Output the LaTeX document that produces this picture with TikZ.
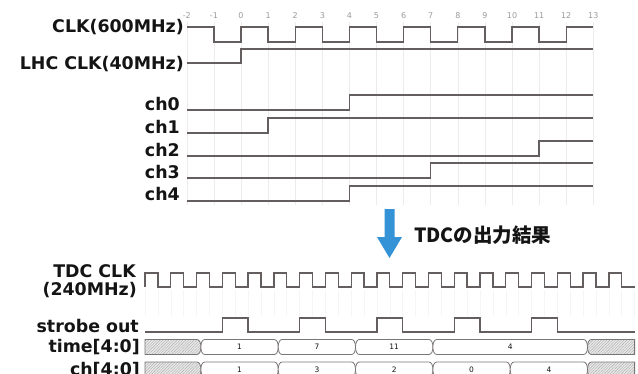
\documentclass[tikz,border=0pt]{standalone}
\usepackage{fontspec}
\setmainfont{DejaVu Sans}
\newfontfamily\jpfont{Noto Sans CJK JP}
\usetikzlibrary{patterns.meta}
\definecolor{wave}{RGB}{100,94,94}
\definecolor{gridc}{RGB}{236,236,236}
\definecolor{arrowblue}{RGB}{52,146,214}
\definecolor{tickc}{RGB}{155,155,155}
\definecolor{labc}{RGB}{20,20,20}
\newcommand\busseg[5]{%
  \draw[#5] ({#1},{(#3+#4)/2}) .. controls ({#1},{#3+3}) and ({#1+1.5},{#3}) .. ({#1+4},{#3})
    -- ({#2-4},{#3}) .. controls ({#2-1.5},{#3}) and ({#2},{#3+3}) .. ({#2},{(#3+#4)/2})
    .. controls ({#2},{#4-3}) and ({#2-1.5},{#4}) .. ({#2-4},{#4})
    -- ({#1+4},{#4}) .. controls ({#1+1.5},{#4}) and ({#1},{#4-3}) .. ({#1},{(#3+#4)/2}) -- cycle;}
\begin{document}
\begin{tikzpicture}[x=1pt,y=-1pt,
  lab/.style={font=\fontsize{17.4}{18}\selectfont\bfseries, text=labc, inner sep=0pt},
  wavel/.style={draw=wave, line width=1.3pt, line join=miter},
  gridl/.style={draw=gridc, line width=0.6pt},
  tick/.style={font=\fontsize{8}{8}\selectfont, text=tickc, inner sep=0pt},
  val/.style={font=\fontsize{7.5}{8}\selectfont, text=labc, inner sep=0pt},
  busl/.style={draw=wave!85, line width=0.8pt, fill=white},
  hatch/.style={draw=wave!85, line width=0.8pt, preaction={fill=gray!18},
     pattern={Lines[angle=45,distance=2pt,line width=0.4pt]}, pattern color=gray!65}]
\path[use as bounding box] (0,0) rectangle (638,373);
\begin{scope}
\clip (0,0) rectangle (638,373);
\fill[white] (0,0) rectangle (638,373);
% ---------- top grid and ticks
\foreach \i in {-2,...,13}{
  \draw[gridl] ({241+27.1*(\i)},22) -- ({241+27.1*(\i)},205);
  \node[tick] (tk\i) at ({241+27.1*(\i)},16) {\i};
}
% ---------- top labels
\node[lab, anchor=base east] (lclk) at (184,32) {CLK(600MHz)};
\node[lab, anchor=base east] (llhc) at (184,69) {LHC CLK(40MHz)};
\node[lab, anchor=base east] (lch0) at (180,110) {ch0};
\node[lab, anchor=base east] (lch1) at (180,133) {ch1};
\node[lab, anchor=base east] (lch2) at (180,156) {ch2};
\node[lab, anchor=base east] (lch3) at (180,178) {ch3};
\node[lab, anchor=base east] (lch4) at (180,200) {ch4};
% ---------- CLK 600MHz
\draw[wavel] ({241+27.1*(-2)},27)
  foreach \k in {-1,1,3,5,7,9,11}{ -- ({241+27.1*(\k)},27) -- ({241+27.1*(\k)},42)
  -- ({241+27.1*(\k+1)},42) -- ({241+27.1*(\k+1)},27) } -- ({241+27.1*13},27);
% ---------- LHC CLK
\draw[wavel] (187,63) -- (241,63) -- (241,49) -- ({241+27.1*13},49);
% ---------- channels
\foreach \lo/\t in {110/4,133/1,156/11,178/7,201/4}{
  \draw[wavel] (187,\lo) -- ({241+27.1*\t},\lo) -- ({241+27.1*\t},{\lo-15}) -- ({241+27.1*13},{\lo-15});
}
% ---------- arrow and caption
\fill[arrowblue] (384.5,209) -- (394.5,209) -- (394.5,237) -- (402,237) -- (389.5,258) -- (377,237) -- (384.5,237) -- cycle;
\node[font=\jpfont\fontsize{19.5}{20}\selectfont\bfseries, text=labc, inner sep=0pt, anchor=west] (cap) at (414,235) {TDCの出力結果};
% ---------- bottom grid
\foreach \k in {0,...,38}{
  \draw[draw=gridc!55, line width=0.5pt] ({145+25.77*\k/2},290) -- ({145+25.77*\k/2},316);
}
% ---------- bottom labels
\node[lab, anchor=base east] (ltdc1) at (136,277) {TDC CLK};
\node[lab, anchor=base east] (ltdc2) at (137,295) {(240MHz)};
\node[lab, anchor=base east] (lstr) at (139,332) {strobe out};
\node[lab, anchor=base east] (ltime) at (140,352) {time[4:0]};
\node[lab, anchor=base east] (lchb) at (140,375) {ch[4:0]};
% ---------- TDC CLK
\draw[wavel] (145,287) foreach \k in {0,...,18}{
  -- ({145+25.77*\k},273) -- ({145+25.77*(\k+0.5)},273) -- ({145+25.77*(\k+0.5)},287) -- ({145+25.77*(\k+1)},287) };
% ---------- strobe out
\draw[wavel] (145,332) foreach \k in {3,6,9,12,15}{
  -- ({145+25.77*\k},332) -- ({145+25.77*\k},318) -- ({145+25.77*(\k+1)},318) -- ({145+25.77*(\k+1)},332) } -- (634.6,332);
% ---------- time bus
\draw[hatch] (145,339.5) -- (196.9,339.5) .. controls (199.4,339.5) and (200.9,342.5) .. (200.9,347)
  .. controls (200.9,351.5) and (199.4,354.5) .. (196.9,354.5) -- (145,354.5) -- cycle;
\busseg{200.9}{278.2}{339.5}{354.5}{busl}
\busseg{278.2}{355.5}{339.5}{354.5}{busl}
\busseg{355.5}{432.9}{339.5}{354.5}{busl}
\busseg{432.9}{587.5}{339.5}{354.5}{busl}
\draw[hatch] (634.6,339.5) -- (591.5,339.5) .. controls (589,339.5) and (587.5,342.5) .. (587.5,347)
  .. controls (587.5,351.5) and (589,354.5) .. (591.5,354.5) -- (634.6,354.5) -- cycle;
\node[val] (tv1) at (239.6,347) {1};
\node[val] (tv2) at (316.9,347) {7};
\node[val] (tv3) at (394.2,347) {11};
\node[val] (tv4) at (510.2,347) {4};
% ---------- ch bus
\draw[hatch] (145,362) -- (196.9,362) .. controls (199.4,362) and (200.9,365) .. (200.9,369.5)
  .. controls (200.9,374) and (199.4,377) .. (196.9,377) -- (145,377) -- cycle;
\busseg{200.9}{278.2}{362}{377}{busl}
\busseg{278.2}{355.5}{362}{377}{busl}
\busseg{355.5}{432.9}{362}{377}{busl}
\busseg{432.9}{510.2}{362}{377}{busl}
\busseg{510.2}{587.5}{362}{377}{busl}
\draw[hatch] (634.6,362) -- (591.5,362) .. controls (589,362) and (587.5,365) .. (587.5,369.5)
  .. controls (587.5,374) and (589,377) .. (591.5,377) -- (634.6,377) -- cycle;
\node[val] (cv1) at (239.6,369.5) {1};
\node[val] (cv2) at (316.9,369.5) {3};
\node[val] (cv3) at (394.2,369.5) {2};
\node[val] (cv4) at (471.6,369.5) {0};
\node[val] (cv5) at (548.9,369.5) {4};
\end{scope}
\end{tikzpicture}
\end{document}
